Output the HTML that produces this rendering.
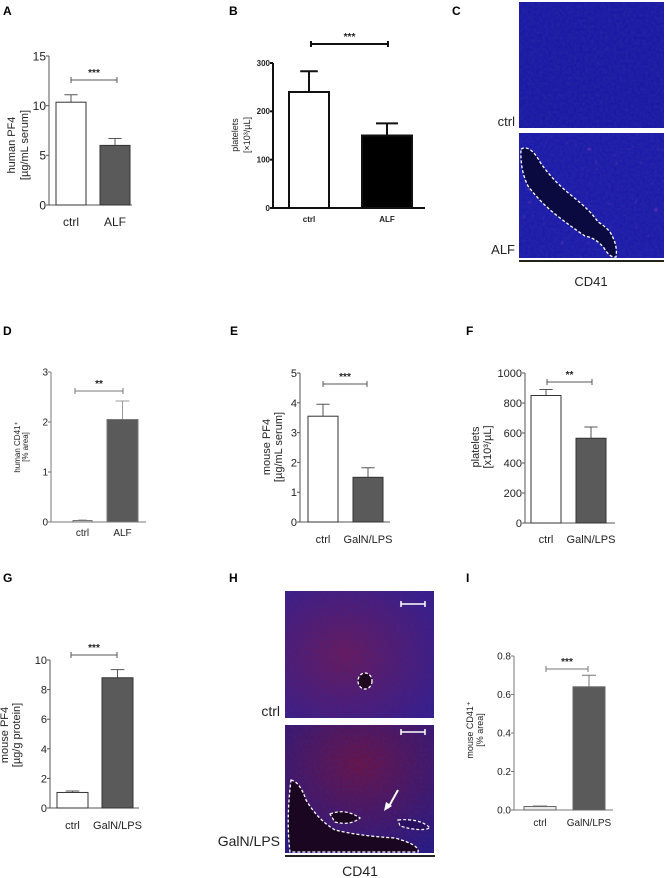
<!DOCTYPE html>
<html><head><meta charset="utf-8"><style>
html,body{margin:0;padding:0;background:#fff;}
svg{display:block;font-family:"Liberation Sans Narrow","Liberation Sans",sans-serif;}
</style></head><body>
<svg id="fig" width="666" height="878" viewBox="0 0 666 878" xmlns="http://www.w3.org/2000/svg">
<defs>
<filter id="noiseB" x="0" y="0" width="100%" height="100%">
<feTurbulence type="fractalNoise" baseFrequency="0.35" numOctaves="2" seed="3"/>
<feColorMatrix type="matrix" values="0 0 0 0 0.03  0 0 0 0 0.03  0 0 0 0 0.35  0 0 0 -1.4 1"/>
</filter>
<filter id="noiseR" x="0" y="0" width="100%" height="100%">
<feTurbulence type="fractalNoise" baseFrequency="0.15" numOctaves="1" seed="7"/>
<feColorMatrix type="matrix" values="0 0 0 0 0.7  0 0 0 0 0.1  0 0 0 0 0.5  0 0 0 8 -5.6"/>
</filter>
<radialGradient id="gH1" cx="0.4" cy="0.5" r="0.7"><stop offset="0" stop-color="#6a1a5a"/><stop offset="1" stop-color="#3a1e8a"/></radialGradient>
<radialGradient id="gH2" cx="0.5" cy="0.3" r="0.8"><stop offset="0" stop-color="#6a1445"/><stop offset="1" stop-color="#2a1a80"/></radialGradient>
</defs>
<g font-family="Liberation Sans, sans-serif" font-weight="bold" font-size="12">
<text x="3" y="15">A</text>
<text x="229" y="15">B</text>
<text x="452" y="15">C</text>
<text x="3" y="335">D</text>
<text x="230" y="335">E</text>
<text x="466" y="335">F</text>
<text x="3" y="582">G</text>
<text x="229" y="582">H</text>
<text x="466" y="582">I</text>
</g>
<g>
<rect x="519" y="2" width="145" height="126" fill="#1a1aa6"/>
<rect x="519" y="2" width="145" height="126" filter="url(#noiseB)" opacity="0.6"/>
<rect x="519" y="133" width="145" height="125" fill="#1c1cac"/>
<rect x="519" y="133" width="145" height="125" filter="url(#noiseB)" opacity="0.6"/>
<rect x="519" y="133" width="145" height="125" filter="url(#noiseR)" opacity="0.25"/>
<path d="M521,149 Q530,144 540,162 Q552,180 572,196 Q590,210 598,222 Q605,226 610,232 Q618,245 616,257 Q610,258 604,248 Q596,238 585,236 Q570,226 555,214 Q540,202 528,186 Q520,170 521,149 Z" fill="#0a0a40" stroke="#fff" stroke-width="1.3" stroke-dasharray="3,2"/>
<line x1="519" y1="261" x2="664" y2="261" stroke="#222" stroke-width="2"/>
<text x="515" y="126" font-size="13" text-anchor="end" font-family="Liberation Sans, sans-serif" fill="#222">ctrl</text>
<text x="515" y="254" font-size="13" text-anchor="end" font-family="Liberation Sans, sans-serif" fill="#222">ALF</text>
<text x="591" y="286" font-size="13" text-anchor="middle" font-family="Liberation Sans, sans-serif" fill="#222">CD41</text>
</g>
<g>
<rect x="285" y="591" width="149" height="127" fill="url(#gH1)"/>
<rect x="285" y="591" width="149" height="127" filter="url(#noiseB)" opacity="0.35"/>
<rect x="285" y="725" width="149" height="128" fill="url(#gH2)"/>
<rect x="285" y="725" width="149" height="128" filter="url(#noiseB)" opacity="0.35"/>
<ellipse cx="365" cy="681" rx="7" ry="8" fill="#200820" stroke="#fff" stroke-width="1.3" stroke-dasharray="3,2"/>
<path d="M401,604 h24 M401,601 v6 M425,601 v6" stroke="#fff" stroke-width="1.5"/>
<path d="M401,732 h24 M401,729 v6 M425,729 v6" stroke="#fff" stroke-width="1.5"/>
<path d="M291,780 Q300,782 306,800 Q318,820 335,830 Q360,836 395,838 Q420,845 418,852 L290,852 Q286,820 291,780 Z" fill="#1a0620" stroke="#fff" stroke-width="1.3" stroke-dasharray="3,2"/>
<path d="M330,814 Q345,808 360,818 Q350,826 335,822 Z" fill="#1a0620" stroke="#fff" stroke-width="1.2" stroke-dasharray="3,2"/>
<path d="M398,820 Q420,818 430,828 Q420,832 400,826 Z" fill="#2a1060" stroke="#fff" stroke-width="1.2" stroke-dasharray="3,2"/>
<path d="M398,790 L388,808" stroke="#fff" stroke-width="2"/><path d="M384,811 L386,802 L392,806 Z" fill="#fff"/>
<line x1="285" y1="856" x2="435" y2="856" stroke="#222" stroke-width="2"/>
<text x="280" y="716" font-size="14" text-anchor="end" fill="#222">ctrl</text>
<text x="280" y="846" font-size="14" text-anchor="end" fill="#222">GalN/LPS</text>
<text x="360" y="876" font-size="14" text-anchor="middle" fill="#222">CD41</text>
</g>
<g id="charts"></g>
</svg>
<script>
// Panel A
const aCategories = ["ctrl", "ALF"];
const aValues = [10.35, 6.0];
const aErrors = [0.75, 0.7];
const aTicks = [0, 5, 10, 15];
// Panel B
const bCategories = ["ctrl", "ALF"];
const bValues = [240, 150];
const bErrors = [43, 25];
const bTicks = [0, 100, 200, 300];
// Panel D
const dCategories = ["ctrl", "ALF"];
const dValues = [0.03, 2.05];
const dErrors = [0.01, 0.37];
const dTicks = [0, 1, 2, 3];
// Panel E
const eCategories = ["ctrl", "GalN/LPS"];
const eValues = [3.55, 1.5];
const eErrors = [0.4, 0.32];
const eTicks = [0, 1, 2, 3, 4, 5];
// Panel F
const fCategories = ["ctrl", "GalN/LPS"];
const fValues = [850, 565];
const fErrors = [40, 75];
const fTicks = [0, 200, 400, 600, 800, 1000];
// Panel G
const gCategories = ["ctrl", "GalN/LPS"];
const gValues = [1.05, 8.8];
const gErrors = [0.1, 0.55];
const gTicks = [0, 2, 4, 6, 8, 10];
// Panel I
const iCategories = ["ctrl", "GalN/LPS"];
const iValues = [0.018, 0.64];
const iErrors = [0.003, 0.06];
const iTicks = ["0.0", "0.2", "0.4", "0.6", "0.8"];

const NS = "http://www.w3.org/2000/svg";
const root = document.getElementById("charts");
function mk(tag, attrs, parent) {
  const e = document.createElementNS(NS, tag);
  for (const k in attrs) e.setAttribute(k, attrs[k]);
  parent.appendChild(e);
  return e;
}
function drawChart(id, cats, vals, errs, ticks, L) {
  const g = mk("g", {}, root);
  
  
  const tickNums = ticks.map(Number);
  const maxV = tickNums[tickNums.length - 1];
  const y = v => L.y0 - (v / maxV) * (L.y0 - L.yTop);
  const col = L.axisColor;
  const ya = mk("line", {x1: L.ax, y1: L.yTop, x2: L.ax, y2: L.y0, stroke: col, "stroke-width": L.axW}, g);
  
  
  const xa = mk("line", {x1: L.ax, y1: L.y0, x2: L.axEnd, y2: L.y0, stroke: col, "stroke-width": L.axW}, g);
  
  
  ticks.forEach(t => {
    const ty = y(Number(t));
    mk("line", {x1: L.ax - 3, y1: ty, x2: L.ax, y2: ty, stroke: col, "stroke-width": L.axW}, g);
    const tl = mk("text", {x: L.ax - 3, y: ty + L.tickFs * 0.36, "font-size": L.tickFs, "text-anchor": "end", fill: "#222", "font-weight": L.bold ? "bold" : "normal", "font-family": L.tickFont || ""}, g);
    tl.textContent = t;
    
    
  });
  cats.forEach((c, i) => {
    const x0 = L.bars[i][0], x1 = L.bars[i][1], cx = (x0 + x1) / 2;
    const top = y(vals[i] + errs[i]);
    const ebar = mk("path", {d: `M${cx},${y(vals[i])} V${top} M${cx - (x1 - x0) * 0.22},${top} H${cx + (x1 - x0) * 0.22}`, stroke: L.errColor || col, "stroke-width": L.barSW, fill: "none"}, g);
    
    
    const r = mk("rect", {x: x0, y: y(vals[i]), width: x1 - x0, height: L.y0 - y(vals[i]), fill: L.fills[i], stroke: L.barStroke || "#333", "stroke-width": L.barSW}, g);
    
    
    const xl = mk("text", {x: cx, y: L.labY, "font-size": L.labFs, "text-anchor": "middle", fill: "#222", "font-weight": L.bold ? "bold" : "normal"}, g);
    xl.textContent = c;
    
    
  });
  const s = L.sig;
  const br = mk("path", {d: `M${s.x0},${s.y} H${s.x1} M${s.x0},${s.y - 3} V${s.y + 3} M${s.x1},${s.y - 3} V${s.y + 3}`, stroke: col, "stroke-width": L.bold ? 2 : 1, fill: "none"}, g);
  
  
  const st = mk("text", {x: (s.x0 + s.x1) / 2, y: s.y - 4, "font-size": 10, "text-anchor": "middle", fill: "#222", "font-weight": "bold"}, g);
  st.textContent = s.t;
  
  
  L.ylab.forEach((txt, k) => {
    const yt = mk("text", {x: 0, y: 0, "font-size": L.ylabFs, "text-anchor": "middle", fill: "#222", "font-family": "Liberation Sans, sans-serif", transform: `translate(${L.ylabX[k]},${L.ylabY}) rotate(-90)`}, g);
    yt.textContent = txt;
    
    
  });
}
const G = "#5a5a5a";
drawChart("a", aCategories, aValues, aErrors, aTicks, {ax: 49, axEnd: 132, y0: 205, yTop: 56, axW: 1, axisColor: "#555", tickFs: 12, bars: [[56, 86], [100, 130]], fills: ["#fff", G], barSW: 1, labY: 226, labFs: 12, sig: {x0: 71, x1: 117, y: 80, t: "***"}, ylab: ["human PF4", "[µg/mL serum]"], ylabX: [15, 28], ylabY: 145, ylabFs: 11});
drawChart("b", bCategories, bValues, bErrors, bTicks, {ax: 273, axEnd: 425, y0: 208, yTop: 63, axW: 2, axisColor: "#111", tickFs: 8, tickFont: "Liberation Sans, sans-serif", bold: true, bars: [[289, 329], [362, 412]], fills: ["#fff", "#000"], barStroke: "#111", barSW: 2, labY: 222, labFs: 8, sig: {x0: 311, x1: 388, y: 44, t: "***"}, ylab: ["platelets", "[×10³/µL]"], ylabX: [238, 250], ylabY: 135, ylabFs: 9});
drawChart("d", dCategories, dValues, dErrors, dTicks, {ax: 51, axEnd: 146, y0: 522, yTop: 372, axW: 1, axisColor: "#777", errColor: "#999", tickFs: 10, bars: [[73, 92], [107, 138]], fills: ["#ddd", G], barStroke: "#777", barSW: 1, labY: 536, labFs: 10, sig: {x0: 75, x1: 123, y: 391, t: "**"}, ylab: ["human CD41⁺", "[% area]"], ylabX: [20, 28], ylabY: 447, ylabFs: 8});
drawChart("e", eCategories, eValues, eErrors, eTicks, {ax: 300, axEnd: 390, y0: 522, yTop: 373, axW: 1, axisColor: "#555", tickFs: 11, bars: [[308, 338], [353, 383]], fills: ["#fff", G], barSW: 1, labY: 543, labFs: 11, sig: {x0: 323, x1: 367, y: 384, t: "***"}, ylab: ["mouse PF4", "[µg/mL serum]"], ylabX: [270, 282], ylabY: 447, ylabFs: 11});
drawChart("f", fCategories, fValues, fErrors, fTicks, {ax: 525, axEnd: 615, y0: 523, yTop: 373, axW: 1, axisColor: "#555", tickFs: 11, bars: [[531, 561], [576, 606]], fills: ["#fff", G], barSW: 1, labY: 543, labFs: 11, sig: {x0: 547, x1: 592, y: 382, t: "**"}, ylab: ["platelets", "[x10³/µL]"], ylabX: [479, 491], ylabY: 447, ylabFs: 11});
drawChart("g", gCategories, gValues, gErrors, gTicks, {ax: 50, axEnd: 139, y0: 808, yTop: 660, axW: 1, axisColor: "#555", tickFs: 11, bars: [[57, 88], [102, 133]], fills: ["#fff", G], barSW: 1, labY: 829, labFs: 11, sig: {x0: 71, x1: 117, y: 655, t: "***"}, ylab: ["mouse PF4", "[µg/g protein]"], ylabX: [8, 20], ylabY: 735, ylabFs: 11});
drawChart("i", iCategories, iValues, iErrors, iTicks, {ax: 514, axEnd: 613, y0: 810, yTop: 656, axW: 1, axisColor: "#777", errColor: "#777", tickFs: 10, bars: [[524, 556], [573, 605]], fills: ["#eee", G], barStroke: "#666", barSW: 1, labY: 826, labFs: 10, sig: {x0: 546, x1: 588, y: 669, t: "***"}, ylab: ["mouse CD41⁺", "[% area]"], ylabX: [473, 483], ylabY: 730, ylabFs: 9});
</script>
</body></html>
